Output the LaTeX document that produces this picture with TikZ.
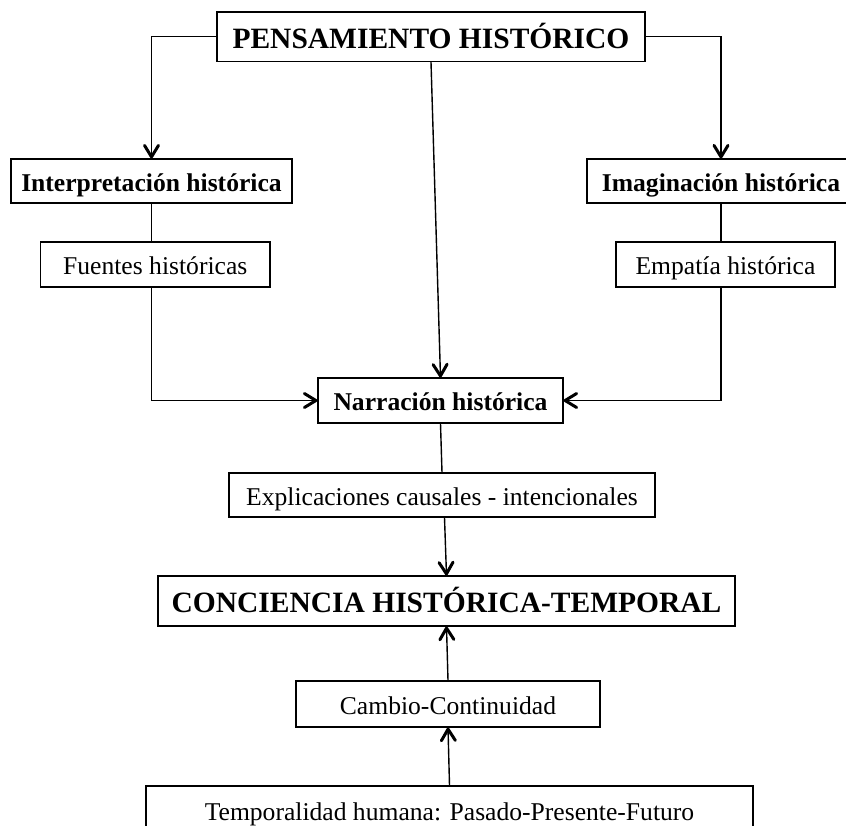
\documentclass[tikz,border=0pt]{standalone}
\usepackage{fontspec}
\setmainfont{Liberation Serif}
\usetikzlibrary{arrows.meta}
\begin{document}
\begin{tikzpicture}[x=1pt,y=-1pt,
  boxx/.style={draw=black, line width=1.2pt, inner sep=0pt, align=center},
  lbl/.style={boxx, font=\fontsize{25.6}{30}\selectfont, text height=25pt, text depth=4.5pt},
  blbl/.style={boxx, font=\fontsize{25.6}{30}\selectfont\bfseries, text height=25pt, text depth=4.5pt},
  ttl/.style={boxx, font=\fontsize{29.5}{34}\selectfont\bfseries, text height=28pt, text depth=5pt},
  conn/.style={line width=1.4pt},
  arr/.style={conn, -{Straight Barb[length=11.5pt,width=14pt,line width=3pt,line cap=round,line join=round]}}]
\useasboundingbox (0,0) rectangle (846,825);
\clip (0,0) rectangle (846,825);
\node[ttl, minimum width=428pt, minimum height=49.5pt] (top) at (431,36.75) {PENSAMIENTO HISTÓRICO};
\node[blbl, minimum width=281pt, minimum height=44pt] (interp) at (151.5,181) {Interpretación histórica};
\node[blbl, minimum width=268pt, minimum height=44pt] (imag) at (721,181) {Imaginación histórica};
\node[lbl, minimum width=229.5pt, minimum height=45pt] (fuentes) at (155.25,264.5) {Fuentes históricas};
\node[lbl, minimum width=219pt, minimum height=45pt] (empatia) at (725.5,264.5) {Empatía histórica};
\node[blbl, minimum width=245pt, minimum height=45pt] (narr) at (440.5,400.5) {Narración histórica};
\node[lbl, minimum width=426pt, minimum height=44pt] (expl) at (442,495) {Explicaciones causales - intencionales};
\node[ttl, minimum width=577pt, minimum height=50pt] (conc) at (446.5,601) {CONCIENCIA HISTÓRICA-TEMPORAL};
\node[lbl, minimum width=304pt, minimum height=46pt] (cambio) at (448,704) {Cambio-Continuidad};
\node[lbl, minimum width=607pt, minimum height=48pt] (temp) at (449.5,810) {Temporalidad humana: Pasado-Presente-Futuro};

\draw[arr] (top.west) -| (interp.north);
\draw[arr] (top.east) -| (imag.north);
\draw[conn] (interp.south) -- (interp.south |- fuentes.north);
\draw[conn] (imag.south) -- (imag.south |- empatia.north);
\draw[arr] (fuentes.south -| interp.south) |- (narr.west);
\draw[arr] (empatia.south -| imag.south) |- (narr.east);
\draw[arr] (top.south) -- (narr.north);
\draw[conn] (narr.south) -- (expl.north);
\draw[arr] ([xshift=2.5pt]expl.south) -- (conc.north);
\draw[arr] (cambio.north) -- (conc.south);
\draw[arr] (temp.north) -- (cambio.south);
\end{tikzpicture}
\end{document}
